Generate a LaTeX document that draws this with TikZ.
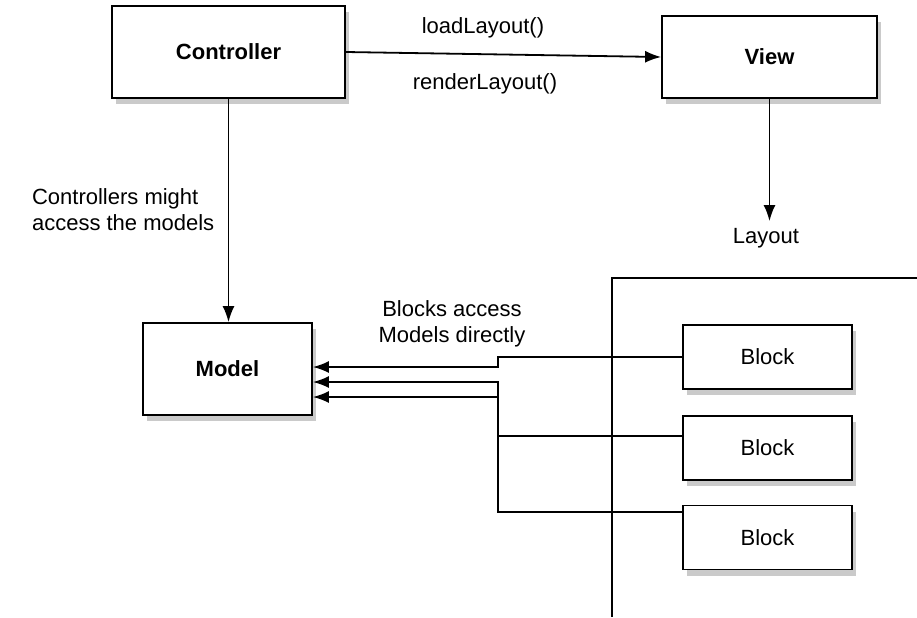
\documentclass[tikz,border=0pt]{standalone}
\usepackage{fontspec}
\setmainfont{Liberation Sans}
\usetikzlibrary{arrows.meta,shadows}
\begin{document}
\begin{tikzpicture}[x=0.5pt,y=-0.5pt,
    font=\fontsize{11}{13}\selectfont,
    box/.style={draw,line width=0.9pt,fill=white,font=\fontsize{11}{13}\selectfont\bfseries,
      drop shadow={shadow xshift=2pt,shadow yshift=-3pt,fill=black!35,opacity=0.6}},
    blk/.style={draw,line width=0.9pt,fill=white,minimum width=84.5pt,minimum height=32pt,
      drop shadow={shadow xshift=2pt,shadow yshift=-3pt,fill=black!35,opacity=0.6}},
    arr/.style={line width=0.9pt,-{Latex[length=8pt,width=6pt]}},
    ln/.style={line width=0.9pt}]
  \useasboundingbox (0,0) rectangle (917,617);
  \draw[ln] (612,617) -- (612,278) -- (917,278);
  \node[box,minimum width=116.5pt,minimum height=46pt] (ctrl) at (228.5,52) {Controller};
  \node[box,minimum width=107.5pt,minimum height=41pt] (view) at (769.5,57) {View};
  \node[box,minimum width=84.5pt,minimum height=46pt] (model) at (227.5,369) {Model};
  \node[blk] (b1) at (767.5,357) {Block};
  \node[blk] (b2) at (767.5,448) {Block};
  \node[blk] (b3) at (767.5,537.5) {Block};
  \node (layout) at (766,238) {Layout};
  \node (load) at (483,28) {loadLayout()};
  \node (render) at (485,84) {renderLayout()};
  \node[align=left,anchor=west] (note) at (25,210) {Controllers might\\access the models};
  \node[align=center] (direct) at (452,324) {Blocks access\\Models directly};
  \coordinate (j1) at (498,367);
  \coordinate (j2) at (498,436);
  \coordinate (j3) at (498,512);
  \draw[arr] (ctrl.east) -- (view.west);
  \draw[arr] (ctrl.south) -- (ctrl.south |- model.north);
  \draw[arr] (view.south) -- (view.south |- layout.north);
  \draw[arr] (b1.west) -| (j1) -- (model.east |- j1);
  \draw[arr] (j2 -| b2.west) -- (j2) -- ++(0,-54) -- (model.east |- 0,382);
  \draw[arr] (j3 -| b3.west) -- (j3) -- ++(0,-115) -- (model.east |- 0,397);
\end{tikzpicture}
\end{document}
